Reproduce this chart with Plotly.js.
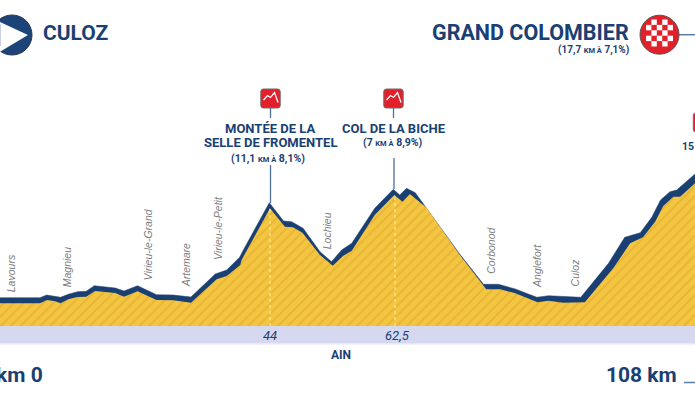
<!DOCTYPE html>
<html><head><meta charset="utf-8">
<script src="https://cdn.plot.ly/plotly-3.0.1.min.js"></script>
<style>html,body{margin:0;padding:0;background:#fff;overflow:hidden}#c{width:695px;height:400px}</style>
</head><body><div id="c"></div>
<script>
// Profile (km, metres)
const reliefKm  = [3.7,9.96,11.0,12.2,13.0,14.15,15.5,16.8,18.1,21.1,22.4,24.4,27.2,29.7,32.3,36.1,37.6,39.6,39.8,44.0,46.2,47.4,48.8,51.4,53.3,54.8,56.1,59.5,62.4,63.6,64.7,67.2,72.1,76.0,78.1,80.3,83.6,85.2,87.4,90.6,94.8,97.3,99.2,101.0,102.2,103.7,104.7,106.9,108];
const reliefAlt = [227,227,260,247,227,267,290,293,350,330,293,347,260,257,233,467,500,610,660,1177,993,987,933,710,603,700,753,1110,1310,1243,1320,1180,710,367,367,327,237,253,233,237,577,827,887,1043,1200,1293,1293,1427,1520];
const ridgeKm   = [3.7,9.96,10.95,12.2,13.0,14.15,15.5,16.8,18.0,21.1,22.4,24.4,27.2,29.7,32.3,35.9,37.6,39.5,40.0,43.9,46.0,47.2,48.9,51.4,53.1,54.6,56.1,59.5,62.25,63.2,64.2,65.5,67.2,72.1,75.6,77.8,80.3,83.5,85.2,87.4,90.0,94.1,96.5,98.8,100.5,101.8,103.2,104.2,106.9,108];
const ridgeAlt  = [283,283,310,297,287,317,343,347,403,380,350,403,313,310,290,520,560,687,753,1233,1050,1043,977,743,643,760,827,1177,1367,1310,1377,1333,1177,717,417,417,370,287,303,293,287,627,887,933,1087,1260,1343,1360,1520,1610];
const townNames = ["Lavours","Magnieu","Virieu-le-Grand","Artemare","Virieu-le-Petit","Lochieu","Corbonod","Anglefort","Culoz"];
const townKm    = [5.7,14.0,26.0,31.6,36.3,52.4,76.6,83.5,89.2];
const townBase  = [330,380,450,380,650,760,510,370,390];
const climbKm   = [44,62.5];
const climbAlt  = [1177,1310];

const NAVY="#1a4073", W=695, H=400;
const px=x=>x/W, py=y=>1-y/H;
const shapes=[], ann=[];
function P(path,fill,line,lw){shapes.push({type:"path",xref:"paper",yref:"paper",path,fillcolor:fill||"rgba(0,0,0,0)",line:{color:line||"rgba(0,0,0,0)",width:lw||0},layer:"above"});}
function pts(a,close){return a.map((p,i)=>(i?"L":"M")+px(p[0]).toFixed(5)+","+py(p[1]).toFixed(5)).join(" ")+(close?" Z":"");}
function circ(cx,cy,r,fill,line,lw){shapes.push({type:"circle",xref:"paper",yref:"paper",x0:px(cx-r),x1:px(cx+r),y0:py(cy+r),y1:py(cy-r),fillcolor:fill,line:{color:line,width:lw},layer:"above"});}
function rect(x0,y0,x1,y1,fill){shapes.push({type:"rect",xref:"paper",yref:"paper",x0:px(x0),x1:px(x1),y0:py(y1),y1:py(y0),fillcolor:fill,line:{width:0},layer:"above"});}
function seg(x0,y0,x1,y1,col,w,dash){shapes.push({type:"line",xref:"paper",yref:"paper",x0:px(x0),x1:px(x1),y0:py(y0),y1:py(y1),line:{color:col,width:w,dash:dash||"solid"},layer:"above"});}
function T(x,y,text,size,opt){opt=opt||{};ann.push(Object.assign({xref:"paper",yref:"paper",x:px(x),y:py(y),text,showarrow:false,xanchor:"center",yanchor:"middle",borderpad:0,
  font:{family:opt.family||"Roboto, sans-serif",size,color:opt.color||NAVY,weight:opt.weight||700,style:opt.style||"normal"}},opt.extra||{}));}

// Baseline band
rect(0,326,W,343,"#d5d8ee"); rect(0,343,W,344.5,"#e6e8f5");

// Start icon
circ(12,35,20,"#1d4479","#2a3550",1);
P(pts([[-2,21],[28,35],[-2,53]],true),"#ffffff");
rect(0,24,1,46,"#c9cfe6");

// Finish icon
seg(678,34.7,695,34.7,"#5b7ea8",1.5);
circ(659.5,34.7,19.5,"#e3202a","#555555",1);
const cell=5.4, gx=646, gy=19.5;
const board=["01010","10101","01010","10101","01010"];
board.forEach((r,j)=>[...r].forEach((c,i)=>{ if(c==="1") rect(gx+i*cell,gy+j*cell,gx+(i+1)*cell,gy+(j+1)*cell,"#ffffff"); }));

// Climb icons
function climbIcon(cx,cy){
  const x0=cx-9.7,x1=cx+9.7,y0=cy-9.5,y1=cy+9.5,r=2.5;
  const c=(x,y)=>px(x).toFixed(5)+","+py(y).toFixed(5);
  P(`M${c(x0+r,y0)} L${c(x1-r,y0)} Q${c(x1,y0)} ${c(x1,y0+r)} L${c(x1,y1-r)} Q${c(x1,y1)} ${c(x1-r,y1)} L${c(x0+r,y1)} Q${c(x0,y1)} ${c(x0,y1-r)} L${c(x0,y0+r)} Q${c(x0,y0)} ${c(x0+r,y0)} Z`,"#e2202c","#6d6d6d",1);
  P(pts([[cx-7,cy+1.5],[cx-3,cy-3],[cx,cy-1],[cx+4,cy-6],[cx+7.5,cy+4]]),null,"#ffffff",1.3);
}
climbIcon(270.5,98.5); climbIcon(393.5,98.5); climbIcon(703,122.5);

// Leader lines
seg(270.5,108,270.5,118,"#4f6f9c",1.3); seg(270.5,165,270.5,203,"#4f6f9c",1.3);
seg(393.5,108,393.5,118,"#4f6f9c",1.3); seg(394,158,394,189,"#4f6f9c",1.3);

// Text
T(42,32.5,"CULOZ",21,{extra:{xanchor:"left"}});
T(629.5,32.5,"GRAND COLOMBIER",21.5,{extra:{xanchor:"right"}});
const sm=s=>`<span style="font-size:7.5px">${s}</span>`;
T(629.5,50.5,`(17,7 ${sm("KM À")} 7,1%)`,10,{extra:{xanchor:"right"}});
T(270,128.5,"MONTÉE DE LA",13);
T(270.5,142.5,"SELLE DE FROMENTEL",13);
T(268,158,`(11,1 ${sm("KM À")} 8,1%)`,10.5);
T(394,128.5,"COL DE LA BICHE",13);
T(392.5,142,`(7 ${sm("KM À")} 8,9%)`,10.5);
T(695,147,"15",10.5,{extra:{xanchor:"right"}});
T(269.5,335,"44",13,{style:"italic",weight:400});
T(397.5,335,"62,5",13,{style:"italic",weight:400});
T(341,355,"AIN",12);
T(44.5,375,"km 0",21,{extra:{xanchor:"right"}});
T(677.5,375,"108 km",21,{extra:{xanchor:"right"}});
seg(684,382.5,695,382.5,"#5b7ea8",1.5);

townNames.forEach((n,i)=>ann.push({xref:"x",yref:"y",x:townKm[i],y:townBase[i],text:n,showarrow:false,textangle:-90,xanchor:"center",yanchor:"bottom",borderpad:0,
  font:{family:"Liberation Sans, sans-serif",size:10.5,color:"#7d7d7d",style:"italic"}}));

const traces=[
 {x:ridgeKm,y:ridgeAlt,type:"scatter",mode:"lines",fill:"tozeroy",fillcolor:NAVY,line:{color:NAVY,width:0.5},hoverinfo:"skip"},
 {x:reliefKm,y:reliefAlt,type:"scatter",mode:"lines",fill:"tozeroy",fillcolor:"#f2c23c",
  fillpattern:{shape:"/",size:7,solidity:0.3,fgcolor:"#dcaa2e",fgopacity:0.55,bgcolor:"#f4c540"},line:{color:"#f2c23c",width:0},hoverinfo:"skip"},
 {x:[climbKm[0],climbKm[0]],y:[0,climbAlt[0]],type:"scatter",mode:"lines",line:{color:"#fbe9a6",width:1.2,dash:"3px,3px"},hoverinfo:"skip"},
 {x:[climbKm[1],climbKm[1]],y:[0,climbAlt[1]],type:"scatter",mode:"lines",line:{color:"#fbe9a6",width:1.2,dash:"3px,3px"},hoverinfo:"skip"}
];
Plotly.newPlot("c",traces,{
 width:W,height:H,margin:{l:0,r:0,t:0,b:0},paper_bgcolor:"#fff",plot_bgcolor:"#fff",showlegend:false,
 xaxis:{range:[4.04,106.9],visible:false,fixedrange:true},
 yaxis:{range:[-740,3260],visible:false,fixedrange:true},
 shapes,annotations:ann
},{displayModeBar:false,staticPlot:true});
</script></body></html>
